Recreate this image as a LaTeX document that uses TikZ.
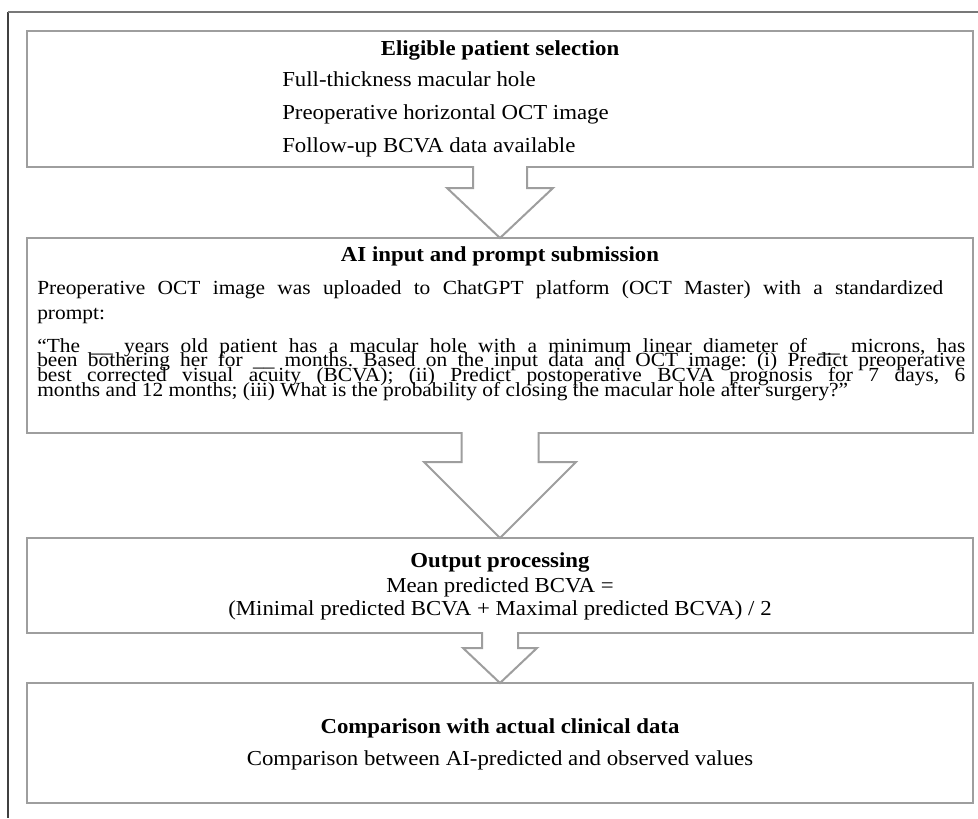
\documentclass[tikz,border=0pt]{standalone}
\usepackage{fontspec}
\setmainfont{Liberation Serif}[FakeStretch=1.07]
\usetikzlibrary{calc}

\definecolor{boxgray}{RGB}{158,158,158}
\definecolor{framegray}{RGB}{120,120,120}

\tikzset{
  stagebox/.style={draw=boxgray, line width=1.5pt, outer sep=0pt, inner sep=0pt, minimum width=709.5pt},
  blockarrow/.style={draw=boxgray, fill=white, line width=1.5pt},
  titletext/.style={anchor=base, inner sep=0pt, font=\bfseries\fontsize{16}{24.4}\selectfont},
  maintext/.style={inner sep=0pt, font=\fontsize{16}{24.4}\selectfont},
  paratext/.style={anchor=base west, inner sep=0pt, align=justify, font=\fontsize{15}{18.75}\selectfont}
}

\begin{document}
\frenchspacing
\begin{tikzpicture}[x=0.75pt, y=-0.75pt]
    \useasboundingbox (0,0) rectangle (978,818);
    % Frame
    \draw[black!75, line width=1.1pt] (8,12) -- (8,818);
    \draw[framegray, line width=1.1pt] (8,12) -- (978,12);
    % Stages
    \node[stagebox, minimum height=102pt] (sel) at (500,99) {};
    \node[stagebox, minimum height=146.25pt] (inp) at (500,335.5) {};
    \node[stagebox, minimum height=71.25pt] (outp) at (500,585.5) {};
    \node[stagebox, minimum height=90pt] (comp) at (500,743) {};
    % Block arrows between stages
    \filldraw[blockarrow] ($(sel.south)+(-27,-1)$) -- ($(sel.south)+(-27,21)$) -- ($(sel.south)+(-53,21)$)
        -- (inp.north) -- ($(sel.south)+(53,21)$) -- ($(sel.south)+(27,21)$) -- ($(sel.south)+(27,-1)$);
    \filldraw[blockarrow] ($(inp.south)+(-38.5,-1)$) -- ($(inp.south)+(-38.5,29)$) -- ($(inp.south)+(-76,29)$)
        -- (outp.north) -- ($(inp.south)+(76,29)$) -- ($(inp.south)+(38.5,29)$) -- ($(inp.south)+(38.5,-1)$);
    \filldraw[blockarrow] ($(outp.south)+(-18,-1)$) -- ($(outp.south)+(-18,15)$) -- ($(outp.south)+(-37,15)$)
        -- (comp.north) -- ($(outp.south)+(37,15)$) -- ($(outp.south)+(18,15)$) -- ($(outp.south)+(18,-1)$);
    % Eligible patient selection
    \node[titletext] (selhead) at (500,55) {Eligible patient selection};
    \node[maintext, anchor=base west, align=left] (selitems) at (282,152)
        {Full-thickness macular hole\\ Preoperative horizontal OCT image\\ Follow-up BCVA data available};
    % AI input and prompt submission
    \node[titletext] (inphead) at (500,261) {AI input and prompt submission};
    \node[paratext, text width=679.5pt] (inpnote) at (37,294)
        {Preoperative OCT image was uploaded to ChatGPT platform (OCT Master) with a standardized\linebreak prompt:};
    \node[paratext, text width=696pt, font=\fontsize{15}{11.1}\selectfont] (inpprompt) at (37,352)
        {\lineskiplimit=-20pt \lineskip=0pt “The \_\_ years old patient has a macular hole with a minimum linear diameter of \_\_ microns, has\linebreak
         been bothering her for \_\_ months. Based on the input data and OCT image: (i) Predict preoperative\linebreak
         best corrected visual acuity (BCVA); (ii) Predict postoperative BCVA prognosis for 7 days, 6\linebreak
         months and 12 months; (iii) What is the probability of closing the macular hole after surgery?”\par};
    % Output processing
    \node[titletext] (outhead) at (500,567.5) {Output processing};
    \node[maintext, anchor=base, align=center, font=\fontsize{16}{17.6}\selectfont] (outform) at (500,615.5)
        {Mean predicted BCVA =\\ (Minimal predicted BCVA + Maximal predicted BCVA) / 2};
    % Comparison with actual clinical data
    \node[titletext] (comphead) at (500,733) {Comparison with actual clinical data};
    \node[maintext, anchor=base] (compnote) at (500,765.5) {Comparison between AI-predicted and observed values};
\end{tikzpicture}
\end{document}
